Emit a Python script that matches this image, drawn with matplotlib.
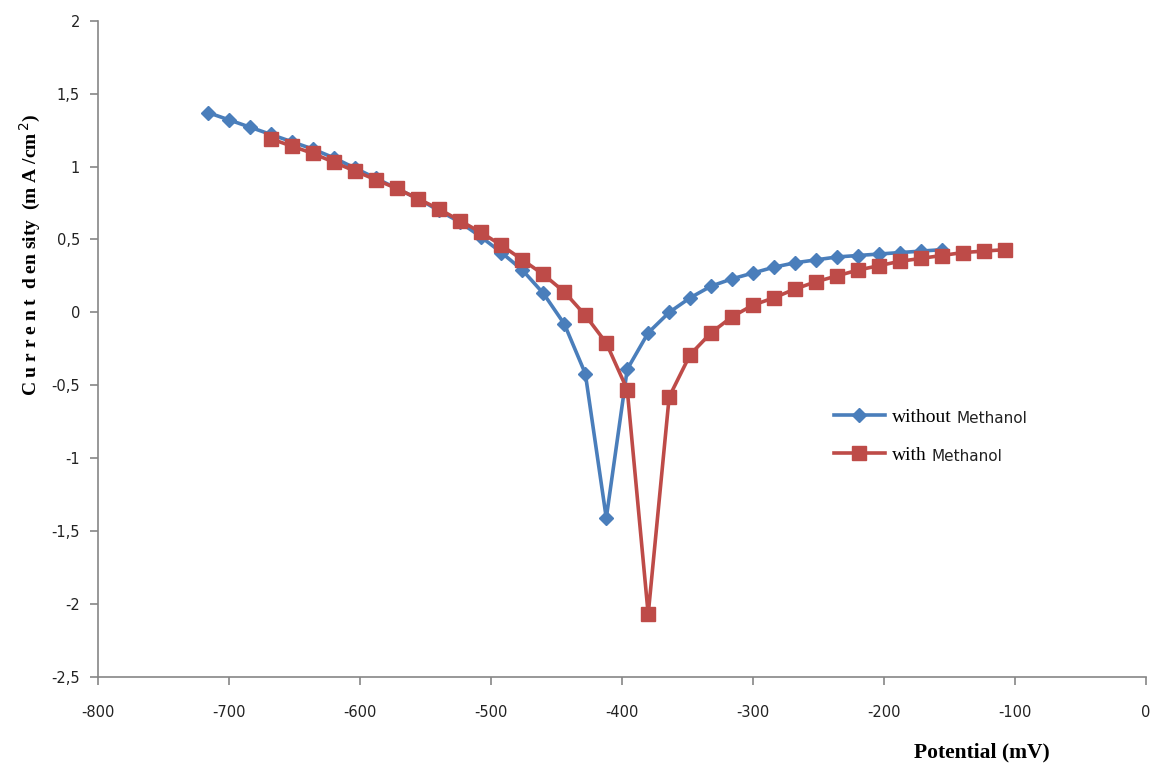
import matplotlib
matplotlib.use("Agg")
import matplotlib.pyplot as plt
from matplotlib.ticker import FuncFormatter, MultipleLocator

# Data (potential in mV, current density in mA/cm^2)
x_without = [-716, -700, -684, -668, -652, -636, -620, -604, -588, -572, -556, -540,
             -524, -508, -492, -476, -460, -444, -428, -412, -396, -380, -364, -348,
             -332, -316, -300, -284, -268, -252, -236, -220, -204, -188, -172, -156]
y_without = [1.37, 1.32, 1.27, 1.22, 1.17, 1.12, 1.06, 0.99, 0.92, 0.85, 0.78, 0.70,
             0.62, 0.52, 0.41, 0.29, 0.13, -0.08, -0.42, -1.41, -0.39, -0.14, 0.00, 0.10,
             0.18, 0.23, 0.27, 0.31, 0.34, 0.36, 0.38, 0.39, 0.40, 0.41, 0.42, 0.43]

x_with = [-668, -652, -636, -620, -604, -588, -572, -556, -540, -524, -508, -492,
          -476, -460, -444, -428, -412, -396, -380, -364, -348, -332, -316, -300,
          -284, -268, -252, -236, -220, -204, -188, -172, -156, -140, -124, -108]
y_with = [1.19, 1.14, 1.09, 1.03, 0.97, 0.91, 0.85, 0.78, 0.71, 0.63, 0.55, 0.46,
          0.36, 0.26, 0.14, -0.02, -0.21, -0.53, -2.07, -0.58, -0.29, -0.14, -0.03, 0.05,
          0.10, 0.16, 0.21, 0.25, 0.29, 0.32, 0.35, 0.37, 0.39, 0.41, 0.42, 0.43]

blue = "#4A7EBB"
red = "#BE4B48"
grey = "#868686"

fig = plt.figure(figsize=(11.53, 7.66), dpi=100)
ax = fig.add_axes([98 / 1153, 1 - 677 / 766, (1146 - 98) / 1153, (677 - 20.7) / 766])

l1, = ax.plot(x_without, y_without, color=blue, lw=2.6, marker="D", ms=7.5,
              mec=blue, mfc=blue, zorder=3)
l2, = ax.plot(x_with, y_with, color=red, lw=2.6, marker="s", ms=9.5,
              mec=red, mfc=red, zorder=4)

ax.set_xlim(-800, 0)
ax.set_ylim(-2.5, 2)
ax.xaxis.set_major_locator(MultipleLocator(100))
ax.yaxis.set_major_locator(MultipleLocator(0.5))


def fmt(v, pos):
    s = ("%g" % v).replace(".", ",")
    return s


ax.yaxis.set_major_formatter(FuncFormatter(fmt))
ax.xaxis.set_major_formatter(FuncFormatter(fmt))

for s in ["top", "right"]:
    ax.spines[s].set_visible(False)
for s in ["left", "bottom"]:
    ax.spines[s].set_color(grey)
    ax.spines[s].set_linewidth(1.2)
ax.tick_params(axis="both", direction="out", length=6, width=1.2, color=grey,
               labelsize=10.5, labelcolor="#222222")
ax.tick_params(axis="x", pad=14)
ax.tick_params(axis="y", pad=7)

# Axis titles
fig.text(30 / 1153, 1 - 255 / 766, "C u r r e n t  d en sity  (m A /cm$^{\\,2}$)",
         rotation=90, ha="center", va="center", family="Liberation Serif",
         fontweight="bold", fontsize=14)
fig.text(982 / 1153, 1 - 752 / 766, "Potential (mV)", ha="center", va="center",
         family="Liberation Serif", fontweight="bold", fontsize=15.5)

# Legend with mixed fonts
leg = ax.legend([l1, l2], ["without", "with"], loc="upper left", frameon=False,
                prop={"family": "Liberation Serif", "size": 14},
                handlelength=2.6, handletextpad=0.4, labelspacing=1.05,
                borderaxespad=0, borderpad=0)
leg.set_bbox_to_anchor(((834 - 98) / (1146 - 98), (677 - 408) / (677 - 20.7)),
                       transform=ax.transAxes)
fig.canvas.draw()
renderer = fig.canvas.get_renderer()
for t in leg.get_texts():
    bb = t.get_window_extent(renderer)
    fig.text(bb.x1 + 4, (bb.y0 + bb.y1) / 2 - 1, "Methanol", transform=None,
             ha="left", va="center", family="DejaVu Sans", fontsize=11,
             color="#222222")

fig.savefig("out.png", dpi=100, facecolor="white")
